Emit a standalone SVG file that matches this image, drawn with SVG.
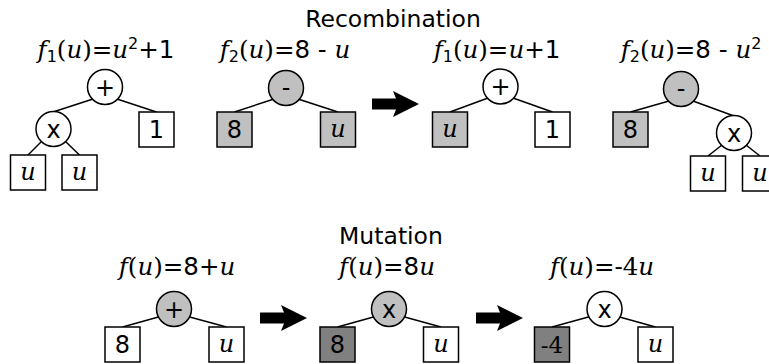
<svg xmlns="http://www.w3.org/2000/svg" width="769" height="364" viewBox="0 0 769 364">
<defs>
<style>
.ttl{font-family:"DejaVu Sans",sans-serif;font-size:23.5px;text-anchor:middle;fill:#000}
.fm{font-family:"DejaVu Serif",serif;font-size:24.5px;text-anchor:middle;fill:#000}
.i{font-style:italic}
.s{font-family:"DejaVu Sans",sans-serif}
.sm{font-size:16px}
.lbl{font-family:"DejaVu Sans",sans-serif;font-size:24px;text-anchor:middle;fill:#000}
.lu{font-family:"DejaVu Serif",serif;font-style:italic;font-size:24px;text-anchor:middle;fill:#000}
.ls{font-family:"DejaVu Serif",serif;font-size:23px;text-anchor:middle;fill:#000}
.n{stroke:#000;stroke-width:1.5}
.w{fill:#fff}
.g{fill:#c0c0c0}
.d{fill:#808080}
.e{stroke:#000;stroke-width:1.5;fill:none}
.arr{fill:#000}
</style>
</defs>
<rect width="769" height="364" fill="#fff"/>
<text class="ttl" x="393" y="27">Recombination</text>
<text class="ttl" x="391" y="244">Mutation</text>

<g id="formulas">
<text class="fm" x="106" y="58"><tspan class="i">f</tspan><tspan class="s sm" dy="4">1</tspan><tspan dy="-4">(</tspan><tspan class="i">u</tspan>)=<tspan class="i">u</tspan><tspan class="s sm" dy="-9">2</tspan><tspan class="s" dy="9">+1</tspan></text>
<text class="fm" x="285" y="58"><tspan class="i">f</tspan><tspan class="s sm" dy="4">2</tspan><tspan dy="-4">(</tspan><tspan class="i">u</tspan>)=<tspan class="s">8 - </tspan><tspan class="i">u</tspan></text>
<text class="fm" x="497" y="58"><tspan class="i">f</tspan><tspan class="s sm" dy="4">1</tspan><tspan dy="-4">(</tspan><tspan class="i">u</tspan>)=<tspan class="i">u</tspan><tspan class="s">+1</tspan></text>
<text class="fm" x="691" y="58"><tspan class="i">f</tspan><tspan class="s sm" dy="4">2</tspan><tspan dy="-4">(</tspan><tspan class="i">u</tspan>)=<tspan class="s">8 - </tspan><tspan class="i">u</tspan><tspan class="s sm" dy="-9">2</tspan></text>
<text class="fm" x="177" y="275"><tspan class="i">f</tspan>(<tspan class="i">u</tspan>)=<tspan class="s">8+</tspan><tspan class="i">u</tspan></text>
<text class="fm" x="387" y="275"><tspan class="i">f</tspan>(<tspan class="i">u</tspan>)=<tspan class="s">8</tspan><tspan class="i">u</tspan></text>
<text class="fm" x="602" y="275"><tspan class="i">f</tspan>(<tspan class="i">u</tspan>)=-4<tspan class="i">u</tspan></text>
</g>

<g id="connectors">
<line class="e" x1="93" y1="99" x2="53" y2="112"/>
<line class="e" x1="117" y1="99" x2="156.5" y2="112"/>
<line class="e" x1="41" y1="142" x2="28" y2="155"/>
<line class="e" x1="66" y1="142" x2="79.5" y2="155"/>
<line class="e" x1="274" y1="99" x2="234.5" y2="112"/>
<line class="e" x1="298" y1="99" x2="338" y2="112"/>
<line class="e" x1="488" y1="98" x2="450" y2="112"/>
<line class="e" x1="513" y1="98" x2="552.5" y2="112"/>
<line class="e" x1="669" y1="101" x2="630.5" y2="112"/>
<line class="e" x1="693" y1="101" x2="734" y2="116"/>
<line class="e" x1="722" y1="145" x2="708" y2="156"/>
<line class="e" x1="746" y1="145" x2="760" y2="156"/>
<line class="e" x1="162" y1="316" x2="122.5" y2="327"/>
<line class="e" x1="186" y1="316" x2="226.5" y2="327"/>
<line class="e" x1="377" y1="316" x2="337.5" y2="327"/>
<line class="e" x1="401" y1="316" x2="441" y2="327"/>
<line class="e" x1="592" y1="316" x2="552" y2="327"/>
<line class="e" x1="616" y1="316" x2="655.5" y2="327"/>
<polygon class="arr" points="372,98.5 396,98.5 393,91 419,104 393,117 396,109.5 372,109.5"/>
<polygon class="arr" points="260,312.5 284,312.5 281,305 307,318 281,331 284,323.5 260,323.5"/>
<polygon class="arr" points="476,312.5 500,312.5 497,305 523,318 497,331 500,323.5 476,323.5"/>
</g>

<g id="t1-plus"><circle class="n w" cx="105" cy="87" r="17.5"/><text class="lbl" x="105" y="95.5">+</text></g>
<g id="t1-times"><circle class="n w" cx="53.5" cy="129" r="17.5"/><text class="lbl" x="53.5" y="137.5">x</text></g>
<g id="t1-one"><rect class="n w" x="139" y="112" width="35" height="35"/><text class="lbl" x="156.5" y="138">1</text></g>
<g id="t1-u1"><rect class="n w" x="10.5" y="155" width="35" height="35"/><text class="lu" x="28" y="180">u</text></g>
<g id="t1-u2"><rect class="n w" x="62" y="155" width="35" height="35"/><text class="lu" x="79.5" y="180">u</text></g>

<g id="t2-minus"><circle class="n g" cx="286" cy="88" r="17.5"/><text class="lbl" x="286" y="96">-</text></g>
<g id="t2-eight"><rect class="n g" x="217" y="112" width="35" height="35"/><text class="lbl" x="234.5" y="138">8</text></g>
<g id="t2-u"><rect class="n g" x="320.5" y="112" width="35" height="35"/><text class="lu" x="338" y="137">u</text></g>

<g id="t3-plus"><circle class="n w" cx="500.5" cy="86.5" r="17.5"/><text class="lbl" x="500.5" y="95">+</text></g>
<g id="t3-u"><rect class="n g" x="432.5" y="112" width="35" height="35"/><text class="lu" x="450" y="137">u</text></g>
<g id="t3-one"><rect class="n w" x="535" y="112" width="35" height="35"/><text class="lbl" x="552.5" y="138">1</text></g>

<g id="t4-minus"><circle class="n g" cx="681" cy="89" r="17.5"/><text class="lbl" x="681" y="97">-</text></g>
<g id="t4-eight"><rect class="n g" x="613" y="112" width="35" height="35"/><text class="lbl" x="630.5" y="138">8</text></g>
<g id="t4-times"><circle class="n w" cx="734" cy="133" r="17.5"/><text class="lbl" x="734" y="141.5">x</text></g>
<g id="t4-u1"><rect class="n w" x="690.5" y="156" width="35" height="35"/><text class="lu" x="708" y="181">u</text></g>
<g id="t4-u2"><rect class="n w" x="742.5" y="156" width="35" height="35"/><text class="lu" x="760" y="181">u</text></g>

<g id="m1-plus"><circle class="n g" cx="174" cy="309" r="17.5"/><text class="lbl" x="174" y="317.5">+</text></g>
<g id="m1-eight"><rect class="n w" x="105" y="327" width="35" height="35"/><text class="lbl" x="122.5" y="353">8</text></g>
<g id="m1-u"><rect class="n w" x="209" y="327" width="35" height="35"/><text class="lu" x="226.5" y="352">u</text></g>

<g id="m2-times"><circle class="n g" cx="389" cy="309" r="17.5"/><text class="lbl" x="389" y="317.5">x</text></g>
<g id="m2-eight"><rect class="n d" x="320" y="327" width="35" height="35"/><text class="lbl" x="337.5" y="353">8</text></g>
<g id="m2-u"><rect class="n w" x="423.5" y="327" width="35" height="35"/><text class="lu" x="441" y="352">u</text></g>

<g id="m3-times"><circle class="n w" cx="604.5" cy="309" r="17.5"/><text class="lbl" x="604.5" y="317.5">x</text></g>
<g id="m3-four"><rect class="n d" x="534.5" y="327" width="35" height="35"/><text class="ls" x="552" y="353">-4</text></g>
<g id="m3-u"><rect class="n w" x="638" y="327" width="35" height="35"/><text class="lu" x="655.5" y="352">u</text></g>
</svg>
